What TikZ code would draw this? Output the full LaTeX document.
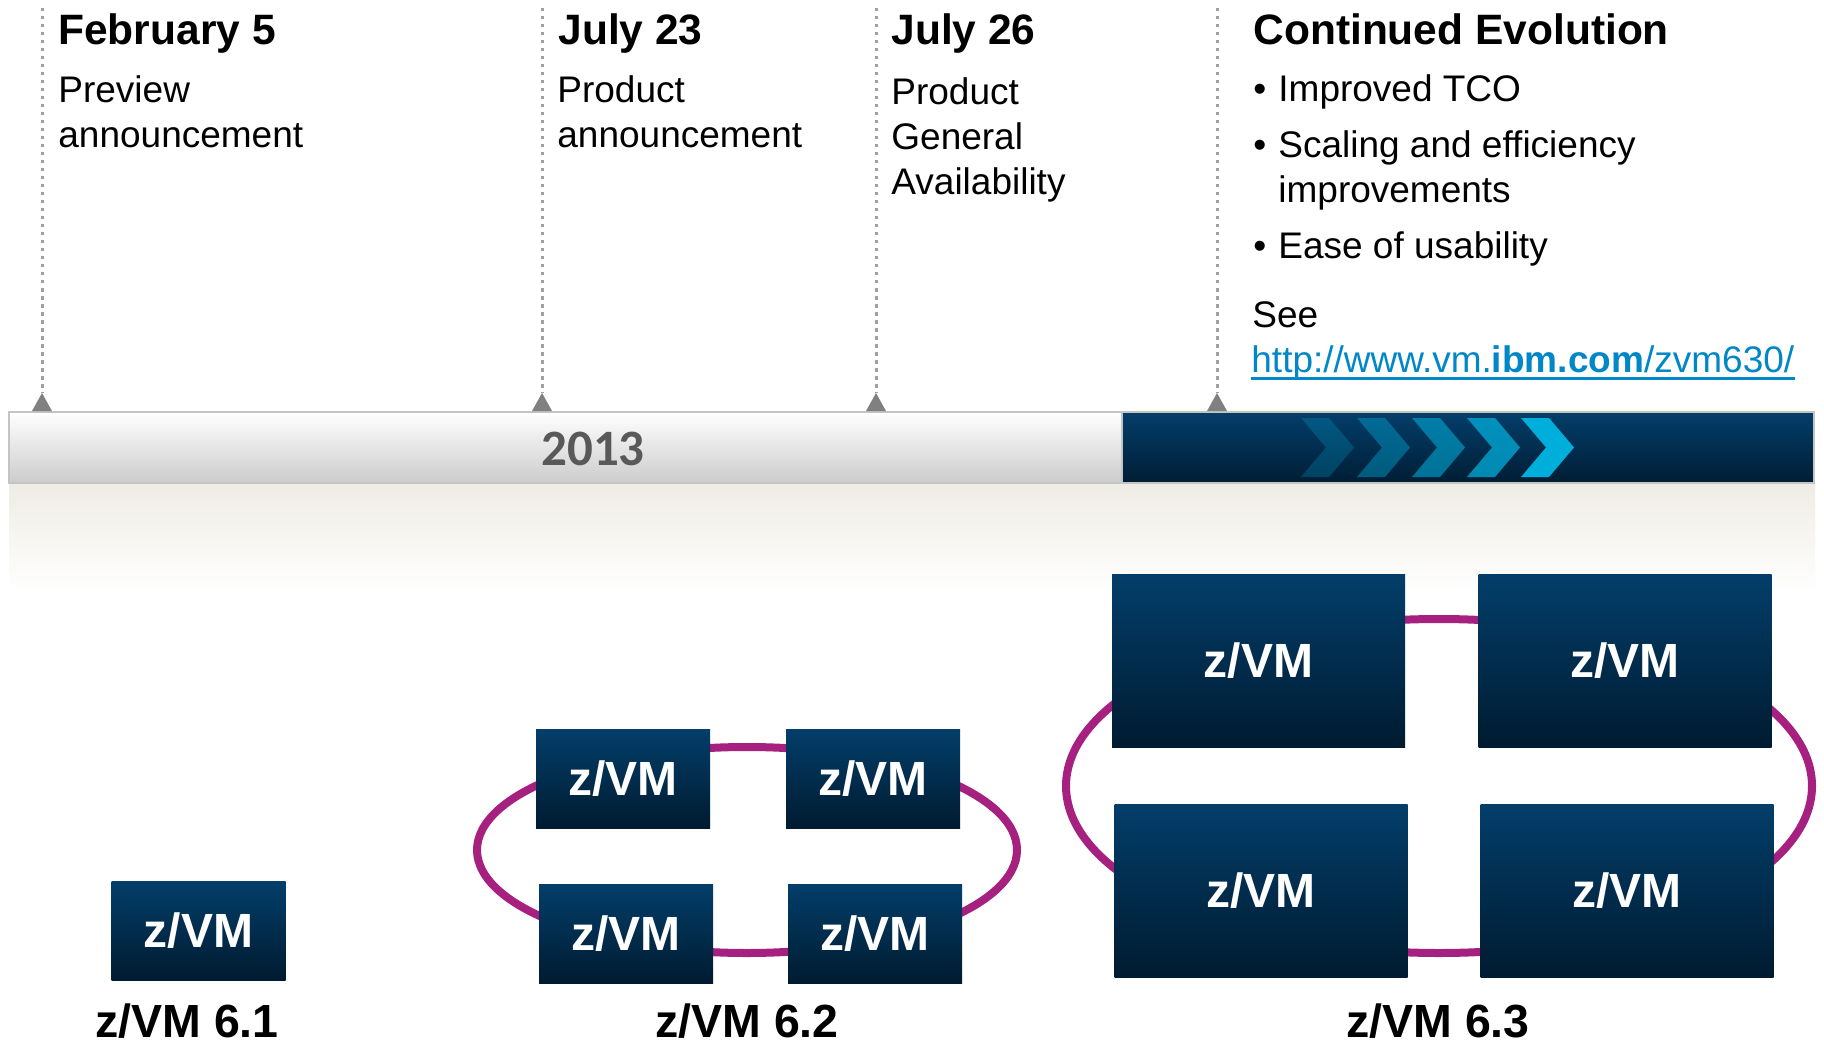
\documentclass[tikz,border=0pt]{standalone}
\usepackage{fontspec}
\setmainfont{Liberation Sans}
\newfontfamily\carlito{Carlito}
\definecolor{boxtop}{RGB}{3,62,106}
\definecolor{boxbot}{RGB}{0,27,48}
\definecolor{barbot}{RGB}{0,29,52}
\definecolor{ringc}{RGB}{166,32,128}
\definecolor{chevc}{RGB}{0,174,219}
\definecolor{linkblue}{RGB}{0,135,200}
\definecolor{markgray}{RGB}{128,128,128}
\definecolor{dotgray}{RGB}{160,160,160}
\definecolor{bordergray}{RGB}{196,196,196}
\definecolor{beige}{RGB}{238,236,228}
\definecolor{yeargray}{RGB}{89,89,89}
\tikzset{
  head/.style={anchor=base west, inner sep=0pt, font=\fontsize{21.25pt}{25pt}\selectfont\bfseries},
  body/.style={anchor=base west, inner sep=0pt, font=\fontsize{18.5pt}{22pt}\selectfont},
  dotline/.style={draw=dotgray, line width=1.5pt, dash pattern=on 1.75pt off 2.25pt},
  marker/.style={fill=markgray},
  zbox/.style={inner sep=0pt, outer sep=0pt, top color=boxtop, bottom color=boxbot, text=white,
    font=\fontsize{24pt}{28pt}\selectfont\bfseries},
  zsmall/.style={zbox, minimum width=87pt, minimum height=49.5pt},
  zbig/.style={zbox, minimum width=146.5pt, minimum height=86.5pt},
  ringline/.style={draw=ringc, line width=4pt},
  version/.style={anchor=base, inner sep=0pt, font=\fontsize{23.25pt}{27pt}\selectfont\bfseries},
  chev/.style={fill=chevc}
}
\begin{document}
\begin{tikzpicture}[x=0.5pt,y=-0.5pt]
\useasboundingbox (0,0) rectangle (1824,1048);
\fill[white] (0,0) rectangle (1824,1048);

% band below the bar
\shade[top color=beige, bottom color=white] (9,483) rectangle (1815,592);

% light timeline bar
\shade[top color=white, middle color=white!97!black, bottom color=white!80!black, draw=bordergray, line width=1.3pt]
  (9,412) rectangle (1124,483);
% dark bar
\shade[top color=boxtop, bottom color=barbot, draw=bordergray, line width=1.3pt]
  (1122,412) rectangle (1814,483);
\node[inner sep=0pt, anchor=base, text=yeargray, font=\carlito\fontsize{25.5pt}{30pt}\selectfont\bfseries] (year) at (593,465) {2013};

% chevrons
\foreach \cx/\op in {1301/0.25,1357/0.42,1412/0.58,1467/0.75,1521/1}{
  \fill[chev, fill opacity=\op] (\cx,418) -- (\cx+28,418) -- (\cx+53,447.5) -- (\cx+28,477) -- (\cx,477) -- (\cx+25,447.5) -- cycle;
}

% timeline markers
\foreach \n/\mx in {1/42,2/542,3/876,4/1217}{
  \coordinate (mtop\n) at (\mx,8);
  \coordinate (mtip\n) at (\mx,393);
  \draw[dotline] (mtop\n) -- (mtip\n);
  \fill[marker] (mtip\n) -- ++(10,18) -- ++(-20,0) -- cycle;
}

% texts
\node[head] (feb) at (58,45) {February 5};
\node[body] (feb1) at (58,103) {Preview};
\node[body] (feb2) at (58,148) {announcement};

\node[head] (j23) at (558,45) {July 23};
\node[body] (j231) at (557,103) {Product};
\node[body] (j232) at (557,148) {announcement};

\node[head] (j26) at (891,45) {July 26};
\node[body] (j261) at (891,105) {Product};
\node[body] (j262) at (891,150) {General};
\node[body] (j263) at (891,195) {Availability};

\node[head] (ce) at (1253,45) {Continued Evolution};
\node[body] (b1) at (1253,102) {•};
\node[body] (t1) at (1278,102) {Improved TCO};
\node[body] (b2) at (1253,158) {•};
\node[body] (t2) at (1278,158) {Scaling and efficiency};
\node[body] (t2b) at (1278,203) {improvements};
\node[body] (b3) at (1253,258) {•};
\node[body] (t3) at (1278,258) {Ease of usability};
\node[body] (see) at (1252,327) {See};
\node[body, text=linkblue] (url) at (1251,372) {http://www.vm.\textbf{ibm.com}/zvm630/};
\draw[linkblue, line width=1.5pt] ([yshift=-3pt]url.base west) -- ([yshift=-3pt]url.base east);

% rings
\coordinate (r2) at (747,850);
\coordinate (r3) at (1439,786);
\draw[ringline] (r2) ellipse [x radius=270, y radius=103];
\draw[ringline] (r3) ellipse [x radius=373, y radius=167];

% z/VM boxes
\node[zsmall] (v61) at (198.5,930.5) {z/VM};

\node[zsmall] (v62a) at (623,778.5) {z/VM};
\node[zsmall] (v62b) at (873,778.5) {z/VM};
\node[zsmall] (v62c) at (626,934) {z/VM};
\node[zsmall] (v62d) at (875,933.5) {z/VM};

\node[zbig] (v63a) at (1258.5,661) {z/VM};
\node[zbig] (v63b) at (1625,661) {z/VM};
\node[zbig] (v63c) at (1261,890.5) {z/VM};
\node[zbig] (v63d) at (1627,890.5) {z/VM};

% version labels
\node[version] (l61) at (187,1037) {z/VM 6.1};
\node[version] (l62) at (747,1037) {z/VM 6.2};
\node[version] (l63) at (1438,1037) {z/VM 6.3};
\end{tikzpicture}
\end{document}
